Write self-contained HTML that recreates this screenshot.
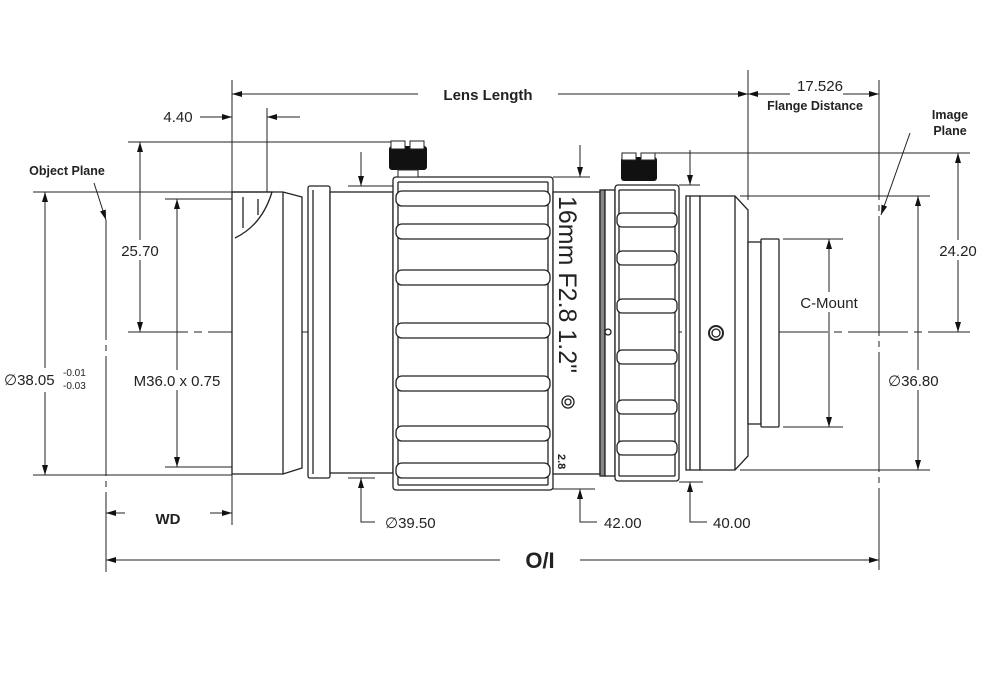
<!DOCTYPE html>
<html><head><meta charset="utf-8"><style>
html,body{margin:0;padding:0;background:#fff;}
svg{display:block;font-family:"Liberation Sans",sans-serif;}
</style></head><body>
<svg width="1000" height="674" viewBox="0 0 1000 674" xmlns="http://www.w3.org/2000/svg">
<defs>
<marker id="a" viewBox="0 0 10 6" refX="10" refY="3" markerWidth="10" markerHeight="6" orient="auto-start-reverse" markerUnits="userSpaceOnUse"><path d="M0,0L10,3L0,6z" fill="#111"/></marker>
</defs>
<g stroke="#222" stroke-width="1" fill="none">
<!-- center line -->
<line x1="128" y1="332" x2="970" y2="332" stroke-dasharray="60,6,8,6"/>
<!-- extension lines -->
<line x1="232" y1="80" x2="232" y2="525"/>
<line x1="267" y1="108" x2="267" y2="192"/>
<line x1="748" y1="70" x2="748" y2="200"/>
<line x1="879" y1="80" x2="879" y2="570" stroke-dasharray="120,5,6,5"/>
<line x1="106" y1="220" x2="106" y2="572" stroke-dasharray="120,5,6,5"/>
<line x1="33" y1="192" x2="232" y2="192"/>
<line x1="33" y1="475" x2="232" y2="475"/>
<line x1="165" y1="199" x2="232" y2="199"/>
<line x1="165" y1="467" x2="245" y2="467"/>
<line x1="128" y1="142" x2="395" y2="142"/>
<line x1="348" y1="186" x2="395" y2="186"/>
<line x1="348" y1="478" x2="375" y2="478"/>
<line x1="553" y1="177" x2="590" y2="177"/>
<line x1="553" y1="489" x2="595" y2="489"/>
<line x1="655" y1="153" x2="970" y2="153"/>
<line x1="679" y1="185" x2="700" y2="185"/>
<line x1="679" y1="482" x2="703" y2="482"/>
<line x1="740" y1="196" x2="930" y2="196"/>
<line x1="740" y1="470" x2="930" y2="470"/>
<line x1="783" y1="239" x2="843" y2="239"/>
<line x1="783" y1="427" x2="843" y2="427"/>
<!-- dims -->
<line x1="232" y1="94" x2="420" y2="94" marker-start="url(#a)"/>
<line x1="555" y1="94" x2="748" y2="94" marker-end="url(#a)"/>
<line x1="748" y1="94" x2="790" y2="94" marker-start="url(#a)"/>
<line x1="843" y1="94" x2="879" y2="94" marker-end="url(#a)"/>
<line x1="200" y1="117" x2="232" y2="117" marker-end="url(#a)"/>
<line x1="267" y1="117" x2="300" y2="117" marker-start="url(#a)"/>
<line x1="45" y1="192" x2="45" y2="475" marker-start="url(#a)" marker-end="url(#a)"/>
<line x1="177" y1="199" x2="177" y2="467" marker-start="url(#a)" marker-end="url(#a)"/>
<line x1="140" y1="142" x2="140" y2="332" marker-start="url(#a)" marker-end="url(#a)"/>
<line x1="106" y1="513" x2="125" y2="513" marker-start="url(#a)"/>
<line x1="210" y1="513" x2="232" y2="513" marker-end="url(#a)"/>
<line x1="106" y1="560" x2="500" y2="560" marker-start="url(#a)"/>
<line x1="580" y1="560" x2="879" y2="560" marker-end="url(#a)"/>
<line x1="361" y1="152" x2="361" y2="186" marker-end="url(#a)"/>
<path d="M361,478 L361,522 L375,522" marker-start="url(#a)"/>
<line x1="580" y1="145" x2="580" y2="177" marker-end="url(#a)"/>
<path d="M580,489 L580,522 L597,522" marker-start="url(#a)"/>
<line x1="690" y1="150" x2="690" y2="185" marker-end="url(#a)"/>
<path d="M690,482 L690,522 L707,522" marker-start="url(#a)"/>
<line x1="958" y1="153" x2="958" y2="332" marker-start="url(#a)" marker-end="url(#a)"/>
<line x1="918" y1="196" x2="918" y2="470" marker-start="url(#a)" marker-end="url(#a)"/>
<line x1="829" y1="239" x2="829" y2="427" marker-start="url(#a)" marker-end="url(#a)"/>
<line x1="94" y1="183" x2="106" y2="220" marker-end="url(#a)"/>
<line x1="910" y1="133" x2="881" y2="215" marker-end="url(#a)"/>
</g>
<!-- lens body -->
<g stroke="#222" stroke-width="1.3" fill="#fff">
<path d="M232,192 L283,192 L302,197 L302,468 L283,474 L232,474 Z"/>
<path d="M232,192 L272,192 Q262,225 235,238" fill="none"/>
<line x1="243" y1="197" x2="243" y2="228"/>
<line x1="258" y1="199" x2="258" y2="215"/>
<line x1="283" y1="192" x2="283" y2="474"/>
<rect x="308" y="186" width="22" height="292" rx="2"/>
<line x1="313" y1="190" x2="313" y2="474"/>
<rect x="330" y="192" width="63" height="281"/>
<rect x="393" y="177" width="160" height="313" rx="3"/>
<line x1="398" y1="182" x2="398" y2="485"/>
<line x1="548" y1="182" x2="548" y2="485"/>
<line x1="398" y1="182" x2="548" y2="182"/>
<line x1="398" y1="485" x2="548" y2="485"/>
<rect x="396" y="191" width="154" height="15" rx="6"/>
<rect x="396" y="224" width="154" height="15" rx="6"/>
<rect x="396" y="270" width="154" height="15" rx="6"/>
<rect x="396" y="323" width="154" height="15" rx="6"/>
<rect x="396" y="376" width="154" height="15" rx="6"/>
<rect x="396" y="426" width="154" height="15" rx="6"/>
<rect x="396" y="463" width="154" height="15" rx="6"/>
<rect x="553" y="192" width="47" height="282"/>
<rect x="600" y="190" width="5" height="286" fill="#888"/>
<rect x="605" y="190" width="10" height="286"/>
<rect x="615" y="185" width="64" height="296" rx="3"/>
<line x1="619" y1="190" x2="675" y2="190"/>
<line x1="619" y1="476" x2="675" y2="476"/>
<line x1="619" y1="190" x2="619" y2="476"/>
<line x1="675" y1="190" x2="675" y2="476"/>
<rect x="617" y="213" width="60" height="14" rx="5"/>
<rect x="617" y="251" width="60" height="14" rx="5"/>
<rect x="617" y="299" width="60" height="14" rx="5"/>
<rect x="617" y="350" width="60" height="14" rx="5"/>
<rect x="617" y="400" width="60" height="14" rx="5"/>
<rect x="617" y="441" width="60" height="14" rx="5"/>
<rect x="686" y="196" width="14" height="274"/>
<line x1="690" y1="196" x2="690" y2="470"/>
<path d="M700,196 L735,196 L748,210 L748,456 L735,470 L700,470 Z"/>
<line x1="735" y1="196" x2="735" y2="470"/>
<rect x="748" y="242" width="13" height="182"/>
<rect x="761" y="239" width="18" height="188" rx="1"/>
<circle cx="716" cy="333" r="7" stroke-width="2"/>
<circle cx="716" cy="333" r="4"/>
<circle cx="608" cy="332" r="3"/>
<circle cx="568" cy="402" r="6"/><circle cx="568" cy="402" r="3"/>
</g>
<!-- knobs -->
<rect x="389" y="146" width="38" height="24" rx="3" fill="#111"/>
<rect x="391" y="141" width="14" height="8" fill="#fff" stroke="#222"/>
<rect x="410" y="141" width="14" height="8" fill="#fff" stroke="#222"/>
<rect x="398" y="170" width="20" height="7" fill="#fff" stroke="#222"/>
<rect x="621" y="157" width="36" height="24" rx="3" fill="#111"/>
<rect x="622" y="153" width="14" height="7" fill="#fff" stroke="#222"/>
<rect x="641" y="153" width="14" height="7" fill="#fff" stroke="#222"/>
<!-- rotated lens text -->
<text x="0" y="0" transform="translate(559,196) rotate(90)" font-size="25" fill="#222">16mm F2.8 1.2"</text>
<text x="0" y="0" transform="translate(558,454) rotate(90)" font-size="11" font-weight="bold" fill="#222">2.8</text>
<!-- labels -->
<g fill="#222" font-size="15">
<rect x="418" y="84" width="140" height="20" fill="#fff"/>
<text x="488" y="100" font-weight="bold" text-anchor="middle">Lens Length</text>
<text x="820" y="91" text-anchor="middle">17.526</text>
<text x="815" y="110" font-weight="bold" font-size="12.5" text-anchor="middle">Flange Distance</text>
<text x="950" y="119" font-weight="bold" font-size="12.5" text-anchor="middle">Image</text>
<text x="950" y="135" font-weight="bold" font-size="12.5" text-anchor="middle">Plane</text>
<text x="67" y="175" font-weight="bold" font-size="12.5" text-anchor="middle">Object Plane</text>
<text x="178" y="122" text-anchor="middle">4.40</text>
<rect x="118" y="240" width="44" height="20" fill="#fff"/>
<text x="140" y="256" text-anchor="middle">25.70</text>
<rect x="8" y="368" width="85" height="24" fill="#fff"/>
<text x="4" y="385">∅38.05</text>
<text x="63" y="376" font-size="10">-0.01</text>
<text x="63" y="389" font-size="10">-0.03</text>
<rect x="125" y="370" width="105" height="20" fill="#fff"/>
<text x="177" y="386" text-anchor="middle">M36.0 x 0.75</text>
<text x="168" y="524" font-weight="bold" text-anchor="middle">WD</text>
<text x="540" y="568" font-weight="bold" font-size="22" text-anchor="middle">O/I</text>
<text x="385" y="528">∅39.50</text>
<text x="604" y="528">42.00</text>
<text x="713" y="528">40.00</text>
<rect x="935" y="240" width="46" height="20" fill="#fff"/>
<text x="958" y="256" text-anchor="middle">24.20</text>
<rect x="890" y="370" width="56" height="20" fill="#fff"/>
<text x="888" y="386">∅36.80</text>
<rect x="790" y="292" width="78" height="20" fill="#fff"/>
<text x="829" y="308" text-anchor="middle">C-Mount</text>
</g>
</svg>
</body></html>
